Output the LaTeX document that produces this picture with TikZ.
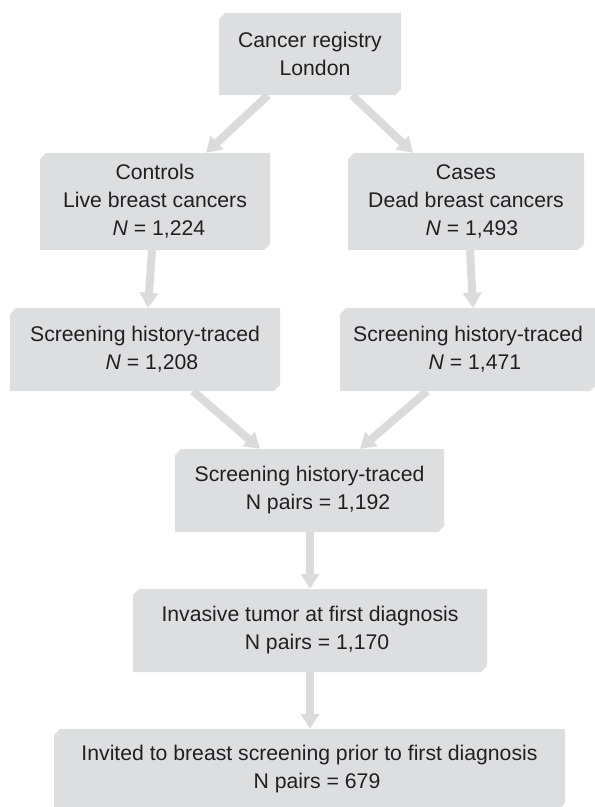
\documentclass[tikz,border=0pt]{standalone}
\usepackage{fontspec}
\setmainfont{Liberation Sans}
\usetikzlibrary{shapes.misc,arrows.meta,calc}
\definecolor{boxgray}{RGB}{221,222,224}
\definecolor{arrgray}{RGB}{218,219,221}
\definecolor{txt}{RGB}{35,31,32}
\begin{document}
\begin{tikzpicture}[x=1pt,y=-1pt,
  box/.style={chamfered rectangle, chamfered rectangle corners={north west,south east},
    chamfered rectangle xsep=3pt, chamfered rectangle ysep=3pt,
    fill=boxgray, draw=none, inner sep=0pt, align=center, text=txt,
    font=\fontsize{21.2}{28}\selectfont},
  arr/.style={draw=arrgray, line width=8pt, -{Triangle[width=18pt,length=15pt]}}]
\useasboundingbox (0,0) rectangle (595,807);
\node[box, minimum width=182pt, minimum height=82pt] (top) at (310,54) {Cancer registry\\\hspace*{10pt}London};
\node[box, minimum width=230pt, minimum height=97pt] (ctrl) at (155,201.5) {Controls\\Live breast cancers\\\hspace*{8pt}\textit{N} = 1,224};
\node[box, minimum width=236pt, minimum height=97pt] (cases) at (466,201.5) {Cases\\Dead breast cancers\\\hspace*{12pt}\textit{N} = 1,493};
\node[box, minimum width=270pt, minimum height=83pt] (scrL) at (145,349.5) {Screening history-traced\\\hspace*{14pt}\textit{N} = 1,208};
\node[box, minimum width=256pt, minimum height=83pt] (scrR) at (468,349.5) {Screening history-traced\\\hspace*{14pt}\textit{N} = 1,471};
\node[box, minimum width=269pt, minimum height=83pt] (mid) at (309.5,490.5) {Screening history-traced\\\hspace*{17pt}N pairs = 1,192};
\node[box, minimum width=354pt, minimum height=83pt] (inv) at (310,630.5) {Invasive tumor at first diagnosis\\\hspace*{14pt}N pairs = 1,170};
\node[box, minimum width=511pt, minimum height=80pt] (bot) at (309.5,769) {Invited to breast screening prior to first diagnosis\\\hspace*{15pt}N pairs = 679};
\draw[arr] ([xshift=-42pt]top.south) -- ([xshift=51pt]ctrl.north);
\draw[arr] ([xshift=42pt]top.south) -- ([xshift=-53pt]cases.north);
\draw[arr] ([xshift=-3pt]ctrl.south) -- ([xshift=3pt]scrL.north);
\draw[arr] ([xshift=4pt]cases.south) -- ([xshift=5pt]scrR.north);
\draw[arr] ([xshift=48pt]scrL.south) -- ([xshift=-49.5pt]mid.north);
\draw[arr] ([xshift=-41pt]scrR.south) -- ([xshift=50.5pt]mid.north);
\draw[arr] ([xshift=0.5pt]mid.south) -- (inv.north);
\draw[arr] (inv.south) -- ([xshift=0.5pt]bot.north);
\end{tikzpicture}
\end{document}
